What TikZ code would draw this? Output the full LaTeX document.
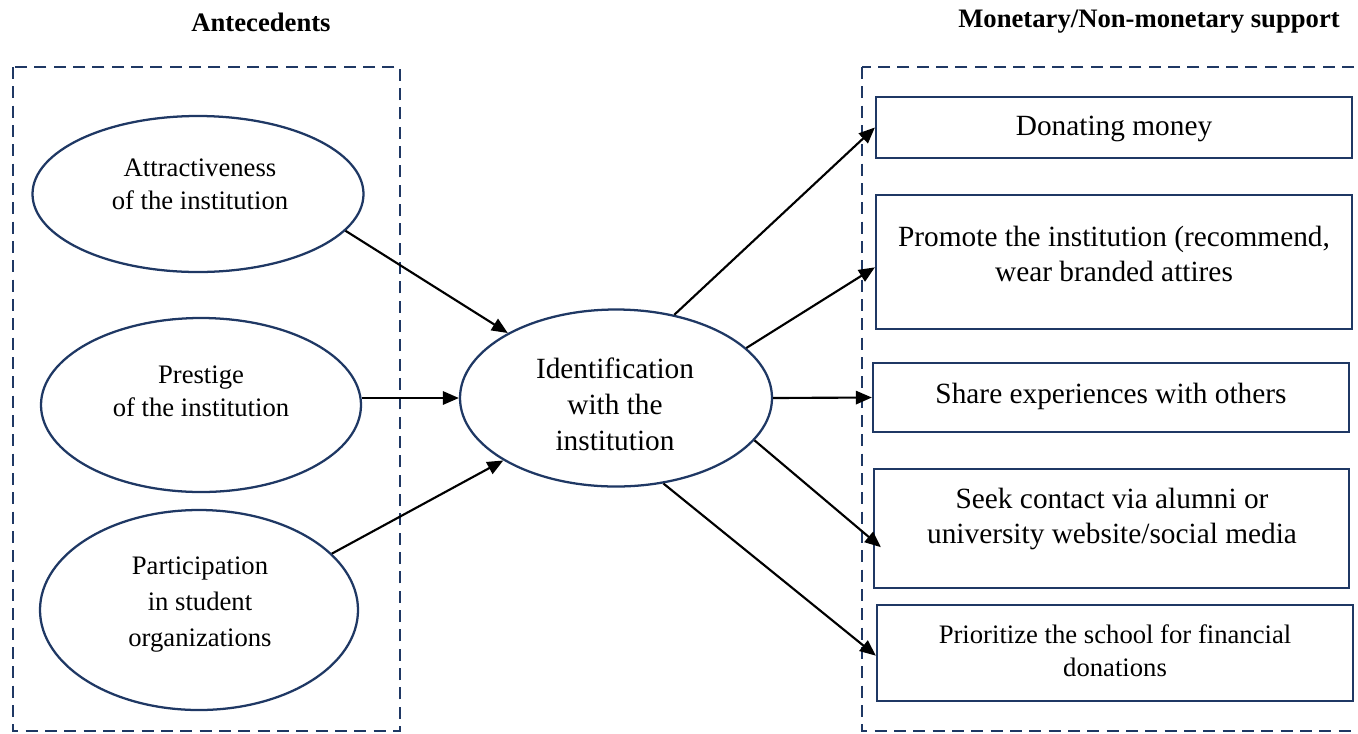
\documentclass[tikz,border=0pt]{standalone}
\usepackage{fontspec}
\setmainfont{Liberation Serif}
\usetikzlibrary{shapes.geometric,arrows.meta}
\definecolor{navy}{HTML}{1F3864}
\tikzset{
  oval/.style={ellipse, draw=navy, line width=1.7pt, inner sep=0pt},
  outbox/.style={rectangle, draw=navy, line width=1.7pt, inner sep=0pt},
  group/.style={draw=navy, line width=1.7pt, dash pattern=on 9pt off 5.5pt},
  lbl/.style={align=center, font=\fontsize{20}{24.75}\selectfont},
  plbl/.style={align=center, font=\fontsize{20}{27}\selectfont},
  clbl/.style={align=center, font=\fontsize{22}{27}\selectfont},
  blbl/.style={align=center, font=\fontsize{22}{26.25}\selectfont},
  head/.style={font=\fontsize{20}{24}\selectfont\bfseries},
  arr/.style={line width=1.6pt, -{Triangle[length=12pt,width=10pt]}}
}
\begin{document}
\begin{tikzpicture}[x=0.75pt,y=-0.75pt]
\useasboundingbox (0,0) rectangle (1358,733);
% headers
\node[head] (h1) at (261,22) {Antecedents};
\node[head] (h2) at (1149,22) {Monetary/Non-monetary support};
% dashed groups
\draw[group] (13,67) rectangle (400,731);
\draw[group] (862,67) rectangle (1372,731);
% antecedent ellipses
\node[oval, minimum width=331*0.75pt, minimum height=156*0.75pt] (a1) at (198,194) {};
\node[lbl] (t1) at (200,184) {Attractiveness\\of the institution};
\node[oval, minimum width=320*0.75pt, minimum height=174*0.75pt] (a2) at (201,405) {};
\node[lbl] (t2) at (201,391) {Prestige\\of the institution};
\node[oval, minimum width=318*0.75pt, minimum height=200*0.75pt] (a3) at (199,610) {};
\node[plbl] (t3) at (200,605) {Participation\\in student\\organizations};
% central
\node[oval, minimum width=312*0.75pt, minimum height=177*0.75pt] (c) at (616,398) {};
\node[clbl] (tc) at (615,404) {Identification\\with the\\institution};
% outcome boxes
\node[outbox, minimum width=476*0.75pt, minimum height=61*0.75pt] (b1) at (1114,127.5) {};
\node[blbl] (tb1) at (1114,129) {Donating money};
\node[outbox, minimum width=476*0.75pt, minimum height=134*0.75pt] (b2) at (1114,262) {};
\node[blbl] (tb2) at (1114,254) {Promote the institution (recommend,\\wear branded attires};
\node[outbox, minimum width=476*0.75pt, minimum height=69*0.75pt] (b3) at (1111,397.5) {};
\node[blbl] (tb3) at (1111,396) {Share experiences with others};
\node[outbox, minimum width=475*0.75pt, minimum height=119*0.75pt] (b4) at (1111.5,528.5) {};
\node[blbl] (tb4) at (1112,519) {Seek contact via alumni or\\university website/social media};
\node[outbox, minimum width=476*0.75pt, minimum height=96*0.75pt] (b5) at (1115,653) {};
\node[lbl] (tb5) at (1115,651) {Prioritize the school for financial\\donations};
% incoming arrows
\draw[arr] (a1.-14.5) -- (c.149.7);
\draw[arr] (a2.east |- c.west) -- (c.west);
\draw[arr] (a3.23) -- (c.209);
% outgoing arrows
\draw[arr] (c.55.5) -- (b1.west);
\draw[arr] (c.21) -- ([yshift=-4pt]b2.west);
\draw[arr] (c.east) -- (b3.west);
\draw[arr] (c.-17.8) -- ([xshift=6pt,yshift=-14pt]b4.west);
\draw[arr] (c.-61) -- ([yshift=-2pt]b5.west);
\end{tikzpicture}
\end{document}
